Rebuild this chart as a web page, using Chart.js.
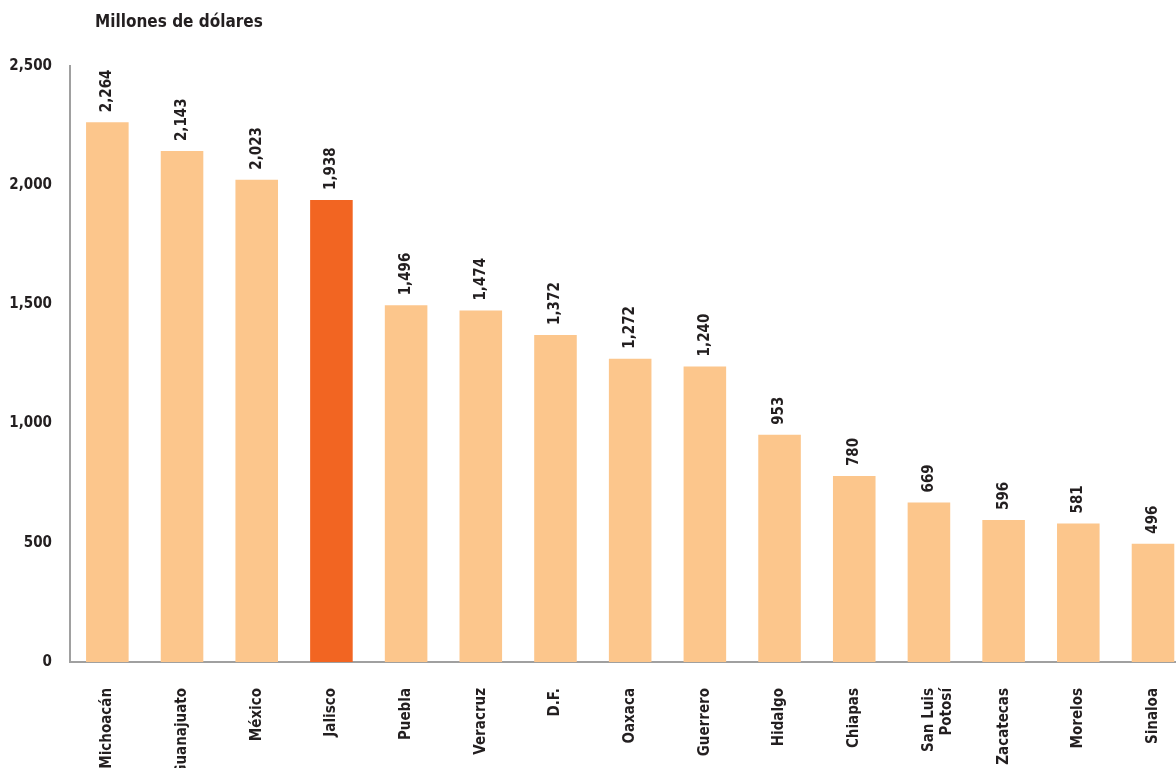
<!DOCTYPE html>
<html>
<head>
<meta charset="utf-8">
<script src="https://cdn.jsdelivr.net/npm/chart.js@4.4.1/dist/chart.umd.min.js"></script>
<style>
  html, body { margin: 0; padding: 0; background: #fff; }
  #wrap { width: 1176px; height: 768px; position: relative; overflow: hidden; }
  #inner { width: 1197px; height: 768px; position: absolute; left: 0; top: 0; }
</style>
</head>
<body>
<div id="wrap"><div id="inner"><canvas id="exportChart"></canvas></div></div>
<script>
// --- DATA ---
const states = ['Michoacán', 'Guanajuato', 'México', 'Jalisco', 'Puebla', 'Veracruz', 'D.F.', 'Oaxaca',
  'Guerrero', 'Hidalgo', 'Chiapas', ['San Luis', 'Potosí'], 'Zacatecas', 'Morelos', 'Sinaloa'];
const amounts = [2264, 2143, 2023, 1938, 1496, 1474, 1372, 1272, 1240, 953, 780, 669, 596, 581, 496];
const highlight = 'Jalisco';
const yTicks = [0, 500, 1000, 1500, 2000, 2500];
const unitTitle = 'Millones de dólares';

const FONT = '"DejaVu Sans Condensed", "Liberation Sans Narrow", "Roboto", sans-serif';
const lightOrange = '#fcc68c';
const darkOrange = '#f26522';
const ink = '#231f20';

const barColors = states.map(s => s === highlight ? darkOrange : lightOrange);
const fmt = v => v.toLocaleString('en-US');

// value labels above bars + title
const labelPlugin = {
  id: 'barValues',
  afterDatasetsDraw(chart) {
    const ctx = chart.ctx;
    const meta = chart.getDatasetMeta(0);
    ctx.save();
    ctx.fillStyle = ink;
    ctx.font = 'bold 15px ' + FONT;
    ctx.textAlign = 'left';
    ctx.textBaseline = 'middle';
    meta.data.forEach((bar, i) => {
      ctx.save();
      ctx.translate(bar.x, bar.y - 10);
      ctx.rotate(-Math.PI / 2);
      ctx.fillText(fmt(amounts[i]), 0, 0);
      ctx.restore();
    });
    ctx.font = 'bold 17px ' + FONT;
    ctx.fillText(unitTitle, 95, 23);
    ctx.restore();
  }
};

const ctx = document.getElementById('exportChart').getContext('2d');
const chart = new Chart(ctx, {
  type: 'bar',
  data: {
    labels: states,
    datasets: [{
      data: amounts,
      backgroundColor: barColors,
      borderWidth: 0,
      categoryPercentage: 1,
      barPercentage: 0.57
    }]
  },
  options: {
    responsive: true,
    maintainAspectRatio: false,
    animation: false,
    layout: { padding: { top: 66, right: 0, left: 0, bottom: 0 } },
    plugins: { legend: { display: false }, tooltip: { enabled: false } },
    scales: {
      x: {
        grid: { display: false, drawTicks: false },
        border: { color: '#a0a0a0', width: 2 },
        ticks: {
          color: ink,
          font: { family: FONT, size: 15, weight: 'bold' },
          minRotation: 90, maxRotation: 90,
          autoSkip: false,
          padding: 26
        },
        afterFit(scale) { scale.height = 106; }
      },
      y: {
        min: 0, max: 2500,
        grid: { display: false, drawTicks: false },
        border: { color: '#a0a0a0', width: 2 },
        afterBuildTicks(scale) { scale.ticks = yTicks.map(v => ({ value: v })); },
        ticks: {
          color: ink,
          font: { family: FONT, size: 15, weight: 'bold' },
          padding: 18,
          callback: v => fmt(v)
        },
        afterFit(scale) { scale.width = 70; }
      }
    }
  },
  plugins: [labelPlugin]
});
</script>
</body>
</html>
